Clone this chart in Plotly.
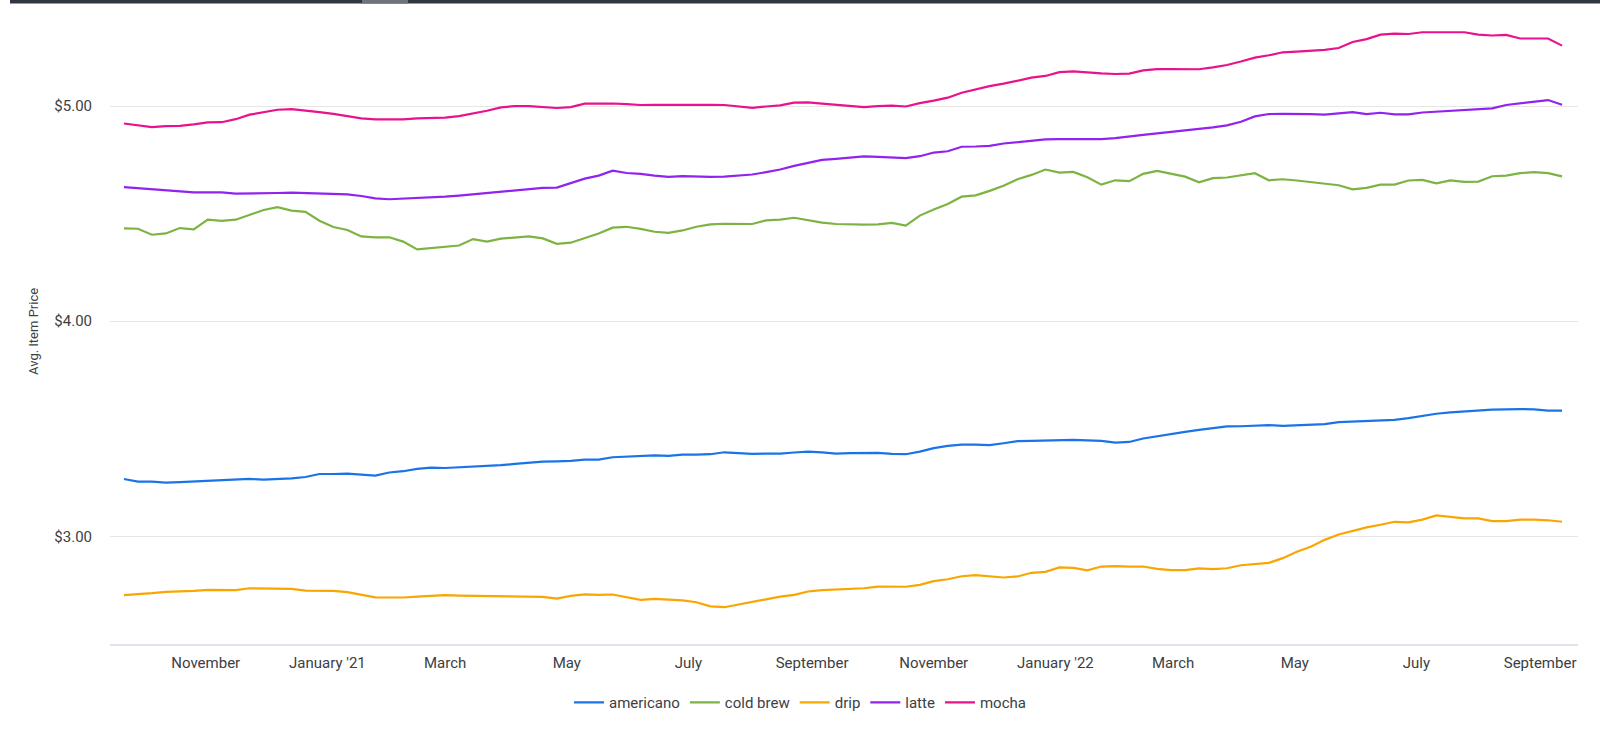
import pandas as pd
import plotly.graph_objects as go

# ---- data ----
start_date = "2020-09-21"
n_weeks = 104
dates = pd.date_range(start_date, periods=n_weeks, freq="7D")

americano = [
    3.267, 3.255, 3.255, 3.250, 3.252, 3.255, 3.259, 3.262, 3.264, 3.267, 3.264, 3.266, 3.270, 3.276, 3.290, 3.290, 3.292,
    3.287, 3.283, 3.297, 3.303, 3.314, 3.320, 3.318, 3.321, 3.325, 3.328, 3.331, 3.337, 3.342, 3.348, 3.349, 3.351, 3.357,
    3.357, 3.368, 3.371, 3.373, 3.377, 3.374, 3.380, 3.380, 3.382, 3.391, 3.388, 3.384, 3.385, 3.385, 3.390, 3.394, 3.391,
    3.385, 3.387, 3.387, 3.388, 3.384, 3.382, 3.394, 3.410, 3.421, 3.427, 3.427, 3.424, 3.433, 3.443, 3.444, 3.446, 3.450,
    3.449, 3.446, 3.444, 3.436, 3.439, 3.455, 3.466, 3.475, 3.486, 3.495, 3.502, 3.511, 3.512, 3.514, 3.517, 3.514, 3.517,
    3.519, 3.522, 3.531, 3.534, 3.536, 3.542, 3.542, 3.550, 3.561, 3.570, 3.576, 3.581, 3.584, 3.589, 3.590, 3.592, 3.590,
    3.585, 3.585,
]
cold_brew = [
    4.432, 4.430, 4.402, 4.408, 4.433, 4.427, 4.472, 4.466, 4.472, 4.494, 4.517, 4.530, 4.514, 4.508, 4.467, 4.438, 4.424,
    4.394, 4.390, 4.390, 4.370, 4.334, 4.339, 4.346, 4.352, 4.382, 4.370, 4.384, 4.390, 4.394, 4.385, 4.360, 4.365, 4.385,
    4.408, 4.435, 4.439, 4.429, 4.416, 4.411, 4.422, 4.439, 4.450, 4.453, 4.453, 4.452, 4.469, 4.472, 4.481, 4.469, 4.458,
    4.452, 4.450, 4.449, 4.450, 4.457, 4.444, 4.491, 4.519, 4.545, 4.579, 4.585, 4.606, 4.630, 4.660, 4.680, 4.705, 4.691,
    4.694, 4.669, 4.635, 4.655, 4.651, 4.685, 4.699, 4.685, 4.672, 4.646, 4.665, 4.668, 4.677, 4.688, 4.655, 4.660, 4.654,
    4.646, 4.640, 4.632, 4.613, 4.620, 4.635, 4.635, 4.654, 4.657, 4.641, 4.655, 4.648, 4.649, 4.674, 4.677, 4.688, 4.693,
    4.688, 4.673,
]
drip = [
    2.727, 2.730, 2.736, 2.742, 2.744, 2.747, 2.752, 2.750, 2.750, 2.759, 2.758, 2.758, 2.756, 2.748, 2.748, 2.747, 2.741,
    2.728, 2.717, 2.716, 2.716, 2.720, 2.725, 2.727, 2.725, 2.724, 2.722, 2.720, 2.719, 2.717, 2.719, 2.711, 2.724, 2.731,
    2.728, 2.730, 2.716, 2.705, 2.710, 2.707, 2.703, 2.694, 2.675, 2.671, 2.683, 2.693, 2.705, 2.720, 2.728, 2.744, 2.750,
    2.752, 2.755, 2.759, 2.767, 2.767, 2.766, 2.775, 2.792, 2.801, 2.815, 2.820, 2.814, 2.809, 2.814, 2.831, 2.835, 2.856,
    2.854, 2.842, 2.860, 2.862, 2.860, 2.860, 2.849, 2.843, 2.843, 2.851, 2.848, 2.852, 2.866, 2.871, 2.877, 2.899, 2.929,
    2.952, 2.984, 3.009, 3.025, 3.042, 3.054, 3.068, 3.065, 3.078, 3.098, 3.090, 3.084, 3.084, 3.071, 3.071, 3.078, 3.078,
    3.075, 3.068,
]
latte = [
    4.623, 4.618, 4.613, 4.607, 4.601, 4.599, 4.599, 4.599, 4.593, 4.593, 4.595, 4.596, 4.598, 4.596, 4.595, 4.595, 4.590,
    4.582, 4.571, 4.567, 4.570, 4.571, 4.575, 4.579, 4.584, 4.590, 4.596, 4.602, 4.610, 4.615, 4.620, 4.621, 4.643, 4.663,
    4.677, 4.700, 4.689, 4.685, 4.677, 4.671, 4.674, 4.671, 4.671, 4.672, 4.677, 4.682, 4.693, 4.705, 4.722, 4.736, 4.750,
    4.755, 4.762, 4.766, 4.764, 4.762, 4.758, 4.767, 4.784, 4.790, 4.811, 4.812, 4.815, 4.826, 4.832, 4.840, 4.845, 4.846,
    4.846, 4.845, 4.846, 4.851, 4.860, 4.866, 4.873, 4.880, 4.885, 4.891, 4.901, 4.910, 4.927, 4.952, 4.963, 4.964, 4.964,
    4.963, 4.960, 4.967, 4.972, 4.963, 4.969, 4.961, 4.961, 4.970, 4.974, 4.980, 4.983, 4.986, 4.989, 5.005, 5.012, 5.019,
    5.028, 5.006,
]
mocha = [
    4.919, 4.910, 4.902, 4.907, 4.908, 4.915, 4.924, 4.925, 4.939, 4.960, 4.970, 4.983, 4.986, 4.980, 4.972, 4.964, 4.955,
    4.943, 4.938, 4.938, 4.938, 4.943, 4.946, 4.946, 4.953, 4.964, 4.978, 4.994, 5.000, 5.000, 4.997, 4.991, 4.995, 5.011,
    5.011, 5.012, 5.009, 5.005, 5.006, 5.006, 5.006, 5.009, 5.006, 5.005, 4.998, 4.992, 4.998, 5.003, 5.016, 5.017, 5.011,
    5.005, 5.002, 4.995, 5.000, 5.002, 4.998, 5.014, 5.025, 5.039, 5.062, 5.078, 5.093, 5.104, 5.118, 5.132, 5.140, 5.158,
    5.161, 5.155, 5.152, 5.149, 5.151, 5.166, 5.172, 5.172, 5.171, 5.171, 5.180, 5.191, 5.207, 5.225, 5.236, 5.250, 5.253,
    5.256, 5.261, 5.270, 5.298, 5.311, 5.332, 5.337, 5.335, 5.343, 5.342, 5.342, 5.343, 5.332, 5.328, 5.331, 5.314, 5.314,
    5.314, 5.281,
]

series_names = ["americano", "cold brew", "drip", "latte", "mocha"]
series_values = [americano, cold_brew, drip, latte, mocha]
series_colors = ["#1a73e8", "#7cb342", "#f9a602", "#9222f0", "#e8128c"]

tick_dates = ["2020-11-01", "2021-01-01", "2021-03-01", "2021-05-01", "2021-07-01", "2021-09-01",
              "2021-11-01", "2022-01-01", "2022-03-01", "2022-05-01", "2022-07-01", "2022-09-01"]
tick_labels = ["November", "January '21", "March", "May", "July", "September",
               "November", "January '22", "March", "May", "July", "September"]

# ---- figure ----
fig = go.Figure()
for name, vals, col in zip(series_names, series_values, series_colors):
    fig.add_trace(go.Scatter(
        x=dates, y=vals, name=name, mode="lines",
        line=dict(color=col, width=2.2),
        hovertemplate="%{x|%b %d, %Y}<br>$%{y:.2f}<extra>" + name + "</extra>",
    ))

font_family = "Roboto, 'Noto Sans', Arial, sans-serif"
text_color = "#3c4043"

W, H = 1600, 732
ML, MR, MT, MB = 110, 22, 20, 88
PW, PH = W - ML - MR, H - MT - MB

fig.update_layout(
    width=W, height=H,
    margin=dict(l=ML, r=MR, t=MT, b=MB),
    paper_bgcolor="white", plot_bgcolor="white",
    font=dict(family=font_family, size=14, color=text_color),
    showlegend=True,
    legend=dict(
        orientation="h", xref="container", yref="container",
        x=0.5, xanchor="center", y=0.04, yanchor="middle",
        font=dict(size=15, color=text_color),
        itemwidth=30,
    ),
    xaxis=dict(
        type="date",
        range=["2020-09-14", "2022-09-20"],
        tickvals=tick_dates, ticktext=tick_labels,
        showgrid=False, zeroline=False,
        showline=True, linecolor="#dfe3ee", linewidth=2,
        ticks="", ticklabelstandoff=4,
        tickfont=dict(size=15, color=text_color),
    ),
    yaxis=dict(
        range=[2.5, 5.4],
        tick0=0, dtick=1,
        tickprefix="$", tickformat=".2f",
        showgrid=True, gridcolor="#e6e6e6", gridwidth=1,
        zeroline=False, showline=False,
        ticks="", ticklabelstandoff=17,
        tickfont=dict(size=15, color=text_color),
    ),
    annotations=[dict(
        text="Avg. Item Price", xref="paper", yref="paper",
        x=0, y=0.5, xshift=-77, textangle=-90,
        xanchor="center", yanchor="middle", showarrow=False,
        font=dict(size=13, color=text_color),
    )],
    shapes=[
        dict(type="rect", xref="paper", yref="paper",
             x0=(10 - ML) / PW, x1=(W - ML) / PW,
             y0=(H - MB - 3.5) / PH, y1=(H - MB) / PH,
             fillcolor="#2f3640", line=dict(width=0), layer="above"),
        dict(type="rect", xref="paper", yref="paper",
             x0=(362 - ML) / PW, x1=(408 - ML) / PW,
             y0=(H - MB - 3.5) / PH, y1=(H - MB) / PH,
             fillcolor="#6e7279", line=dict(width=0), layer="above"),
    ],
)

fig.write_html(
    "out.html",
    config={"displayModeBar": False},
    post_script="document.body.style.margin='0';document.documentElement.style.margin='0';document.body.style.overflow='hidden';",
)
